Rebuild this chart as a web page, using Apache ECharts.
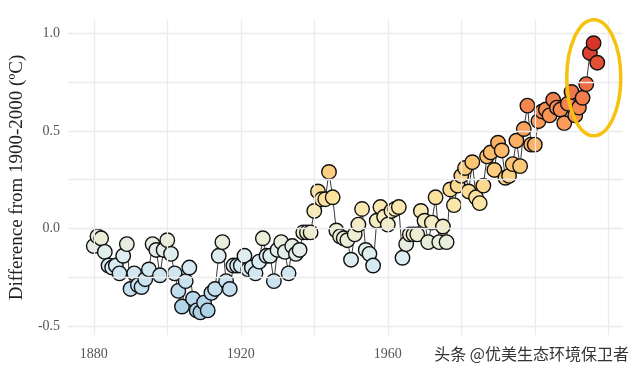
<!DOCTYPE html>
<html>
<head>
<meta charset="utf-8">
<script src="https://cdn.jsdelivr.net/npm/echarts@6/dist/echarts.min.js"></script>
<style>html,body{margin:0;padding:0;background:#fff}#c{width:640px;height:372px}</style>
</head>
<body>
<div id="c"></div>
<script>
const years = [];
for (let y = 1880; y <= 2017; y++) years.push(y);
const anomalies = [
-0.09,-0.04,-0.05,-0.12,-0.19,-0.20,-0.19,-0.23,-0.14,-0.08,
-0.31,-0.23,-0.29,-0.30,-0.26,-0.21,-0.08,-0.11,-0.24,-0.11,
-0.06,-0.13,-0.23,-0.32,-0.40,-0.27,-0.20,-0.36,-0.42,-0.43,
-0.38,-0.42,-0.33,-0.31,-0.14,-0.07,-0.27,-0.31,-0.19,-0.19,
-0.19,-0.14,-0.21,-0.20,-0.23,-0.17,-0.05,-0.14,-0.14,-0.27,
-0.11,-0.07,-0.12,-0.23,-0.09,-0.13,-0.11,-0.02,-0.02,-0.02,
0.09,0.19,0.15,0.15,0.29,0.16,-0.01,-0.04,-0.05,-0.06,
-0.16,-0.03,0.02,0.10,-0.11,-0.13,-0.19,0.04,0.11,0.06,
0.02,0.09,0.10,0.11,-0.15,-0.08,-0.03,-0.03,-0.03,0.09,
0.04,-0.07,0.03,0.16,-0.07,0.01,-0.07,0.20,0.12,0.22,
0.27,0.31,0.19,0.34,0.16,0.13,0.22,0.37,0.39,0.30,
0.44,0.40,0.26,0.27,0.33,0.45,0.32,0.51,0.63,0.43,
0.43,0.55,0.60,0.61,0.58,0.66,0.62,0.61,0.54,0.64,
0.70,0.58,0.62,0.67,0.74,0.90,0.95,0.85
];
const xTickLabels = [1880, 1920, 1960, 2000];
const xGrid = [1880, 1900, 1920, 1940, 1960, 1980, 2000, 2020];
const yTickLabels = [-0.5, 0, 0.5, 1.0];
const yGrid = [-0.5, -0.25, 0, 0.25, 0.5, 0.75, 1.0];
const yTitle = 'Difference from 1900-2000 (ºC)';
const watermark = '头条 @优美生态环境保卫者';
const highlightYears = [2014, 2015, 2016, 2017];
const palette = ['#a8cee5','#bcdbed','#cde5f1','#dceef3','#ebeed6','#f6edc0','#fde3a0','#fdd488',
  '#fdc473','#fcae63','#f99a58','#f3824e','#ec6a43','#e25035','#d7342a'];

const pts = years.map((y, i) => [y, anomalies[i]]);
const chart = echarts.init(document.getElementById('c'), null, {renderer: 'canvas'});
const serif = '"Liberation Serif", "DejaVu Serif", serif';
const gridLine = {color: '#ebebeb', width: 1.3, type: 'solid'};

chart.setOption({
  animation: false,
  backgroundColor: '#fff',
  grid: {left: 65, right: 17, top: 20, bottom: 37},
  xAxis: {
    type: 'value', min: 1873, max: 2024,
    axisLine: {show: false}, axisTick: {show: false}, splitLine: {show: false},
    axisLabel: {customValues: xTickLabels, color: '#555', fontFamily: serif, fontSize: 14, margin: 12,
      formatter: v => String(v)}
  },
  yAxis: {
    type: 'value', min: -0.546, max: 1.069,
    axisLine: {show: false}, axisTick: {show: false}, splitLine: {show: false},
    axisLabel: {customValues: yTickLabels, color: '#555', fontFamily: serif, fontSize: 14, margin: 8,
      formatter: v => v.toFixed(1)},
    name: yTitle, nameLocation: 'middle', nameRotate: 90, nameGap: 40,
    nameTextStyle: {color: '#222', fontFamily: serif, fontSize: 19}
  },
  visualMap: {
    show: false, type: 'continuous', seriesIndex: 1, dimension: 1,
    min: -0.45, max: 0.95,
    inRange: {color: palette}
  },
  series: [
    {
      type: 'line', data: pts, showSymbol: false, symbol: 'none',
      lineStyle: {color: '#222', width: 0.9}, z: 2, silent: true,
      markLine: {
        silent: true, symbol: 'none', label: {show: false}, animation: false,
        lineStyle: gridLine,
        data: xGrid.map(v => ({xAxis: v})).concat(yGrid.map(v => ({yAxis: v})))
      }
    },
    {
      type: 'scatter', data: pts, symbol: 'circle', symbolSize: 14.5, z: 3,
      itemStyle: {borderColor: '#111', borderWidth: 1.4, opacity: 1}
    }
  ]
});

const hp = highlightYears.map(y => chart.convertToPixel({gridIndex: 0}, [y, anomalies[years.indexOf(y)]]));
const xs = hp.map(p => p[0]), ys = hp.map(p => p[1]);
const cx = (Math.min(...xs) + Math.max(...xs)) / 2 + 2;
const cy = (Math.min(...ys) + Math.max(...ys)) / 2 + 14;
chart.setOption({
  graphic: [
    {type: 'ellipse', shape: {cx: cx, cy: cy, rx: 27, ry: 58},
      style: {fill: 'none', stroke: '#f6c20e', lineWidth: 3.5}, z: 100},
    {type: 'text', right: 8, bottom: 8,
      style: {text: watermark, fill: '#333', font: '16px "Noto Sans CJK SC", sans-serif',
        backgroundColor: '#fff', padding: [2, 3]}, z: 100}
  ]
});
</script>
</body>
</html>
